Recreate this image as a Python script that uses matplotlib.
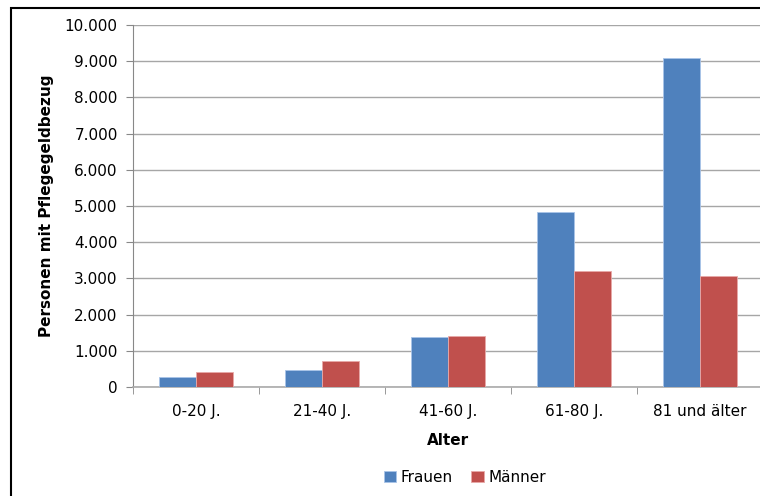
import matplotlib
matplotlib.use("Agg")
import matplotlib.pyplot as plt
from matplotlib.patches import Rectangle
from matplotlib.ticker import FuncFormatter
import numpy as np

# Daten
gruppen = ["0-20 J.", "21-40 J.", "41-60 J.", "61-80 J.", "81 und älter"]
frauen = [285, 470, 1390, 4830, 9080]
maenner = [425, 710, 1415, 3210, 3075]

plt.rcParams['font.family'] = ['DejaVu Sans']

fig = plt.figure(figsize=(7.6, 4.96), dpi=100)
ax = fig.add_axes([133 / 760, 1 - 387 / 496, 630 / 760, 362 / 496])

x = np.arange(len(gruppen))
b = 0.29
ax.bar(x - b / 2, frauen, b, color="#4F81BD", edgecolor="#a9c4e8", linewidth=0.6, label="Frauen", zorder=3)
ax.bar(x + b / 2, maenner, b, color="#C0504D", edgecolor="#e8a9a8", linewidth=0.6, label="Männer", zorder=3)

ax.set_xlim(-0.5, len(gruppen) - 0.5)
ax.set_ylim(0, 10000)
ax.set_yticks(np.arange(0, 10001, 1000))
ax.yaxis.set_major_formatter(FuncFormatter(lambda v, p: f"{int(v):,}".replace(",", ".")))
ax.set_xticks(x)
ax.set_xticklabels(gruppen)
ax.set_xticks(np.arange(-0.5, len(gruppen)), minor=True)
ax.tick_params(axis="x", which="major", length=0, pad=12, labelsize=11)
ax.tick_params(axis="x", which="minor", length=5, color="#888888", direction="out")
ax.tick_params(axis="y", length=5, color="#888888", direction="out", labelsize=11, pad=6)

ax.grid(True, axis="y", color="#a6a6a6", linewidth=1, zorder=0)
for s in ["top", "right"]:
    ax.spines[s].set_visible(False)
ax.spines["left"].set_color("#888888")
ax.spines["bottom"].set_color("#aaaaaa")
ax.spines["bottom"].set_linewidth(1.2)

ax.set_xlabel("Alter", fontsize=11, fontweight="bold", labelpad=10)
ax.set_ylabel("Personen mit Pflegegeldbezug", fontsize=11, fontweight="bold", labelpad=8)

ax.legend(loc="upper center", bbox_to_anchor=(465 / 760, 1 - 456 / 496), bbox_transform=fig.transFigure,
          ncol=2, frameon=False, fontsize=11, handlelength=0.8, handleheight=0.8,
          handletextpad=0.3, columnspacing=1.2)

# Rahmen
fig.patches.append(Rectangle((11 / 760, -0.1), 1.2, 1.1 - 8 / 496, transform=fig.transFigure,
                             fill=False, edgecolor="black", linewidth=1.5))

fig.savefig("out.png", dpi=100)
